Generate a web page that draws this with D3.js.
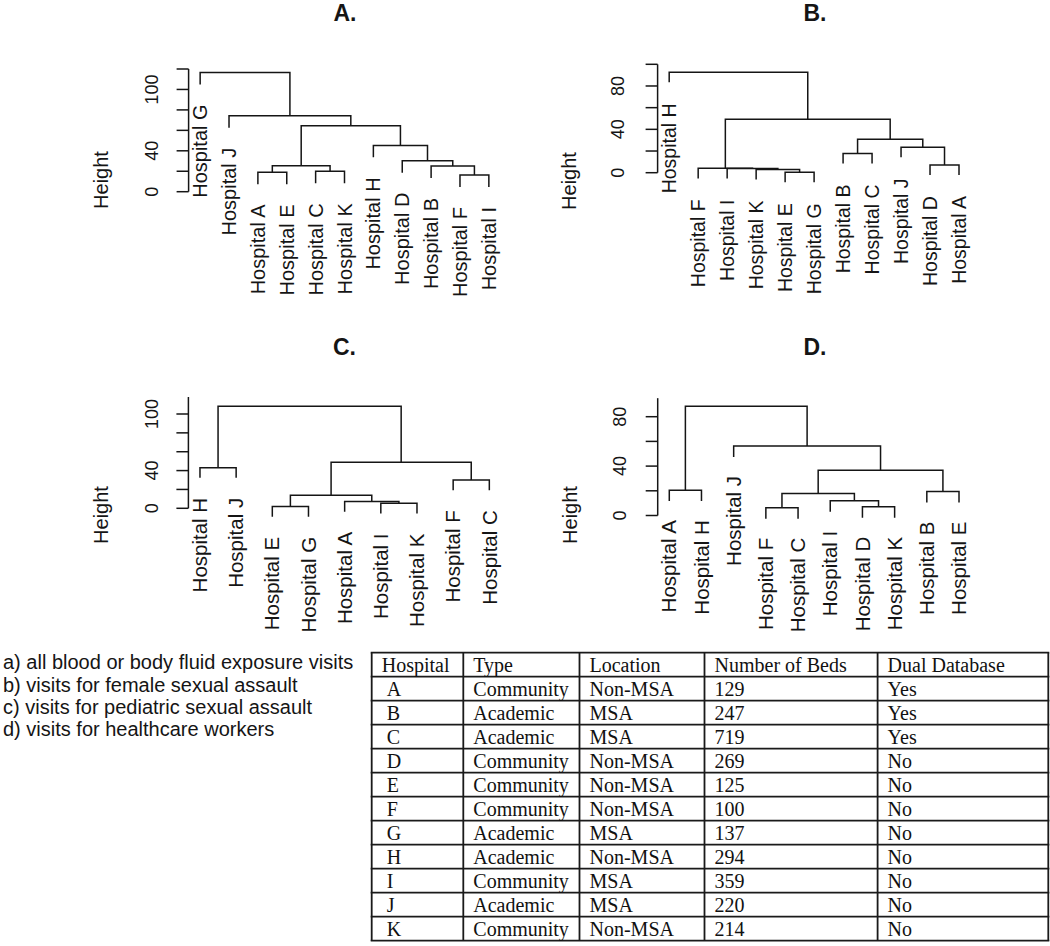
<!DOCTYPE html>
<html>
<head>
<meta charset="utf-8">
<script src="https://cdn.jsdelivr.net/npm/d3@7"></script>
<style>
  html, body { margin: 0; padding: 0; background: #fff; }
  svg { display: block; }
</style>
</head>
<body>
<svg id="chart" width="1050" height="946"></svg>
<script>
// ---------------- DATA ----------------
// Dendrograms as nested merges: [left, right, mergeHeight]; leaves are hospital letters.
const treeA = ["G", ["J", [[["A", "E", 18.9], ["C", "K", 19.9], 25.4],
                         ["H", ["D", ["B", ["F", "I", 16.3], 25.1], 30.3], 45.3], 64.5], 74.3], 116.6];
const treeB = ["H", [["F", ["I", ["K", ["E", "G", 0.5], 3.0], 3.8], 4.0],
                     [["B", "C", 17.8], ["J", ["D", "A", 7.1], 23.4], 30.8], 49.2], 92.6];
const treeC = [["H", "J", 43.1],
               [[["E", "G", 1.8], ["A", ["I", "K", 5.3], 7.1], 13.8], ["F", "C", 30.0], 48.8], 108.1];
const treeD = [["A", "H", 20.5],
               ["J", [[["F", "C", 6.2], ["I", ["D", "K", 7.0], 11.9], 17.8], ["B", "E", 19.4], 36.7], 56.3], 88.4];

const panelTitles = ["A.", "B.", "C.", "D."];
const ticksA = [0, 20, 40, 60, 80, 100, 120], tickLabelsA = [0, 40, 100];
const ticksB = [0, 20, 40, 60, 80, 100],      tickLabelsB = [0, 40, 80];
const ticksC = [0, 20, 40, 60, 80, 100],      tickLabelsC = [0, 40, 100];
const ticksD = [0, 20, 40, 60, 80],           tickLabelsD = [0, 40, 80];
const yAxisTitle = "Height";
const leafPrefix = "Hospital ";

const legendLines = [
  "a) all blood or body fluid exposure visits",
  "b) visits for female sexual assault",
  "c) visits for pediatric sexual assault",
  "d) visits for healthcare workers"
];

const tableHeader = ["Hospital", "Type", "Location", "Number of Beds", "Dual Database"];
const hospitals = ["A", "B", "C", "D", "E", "F", "G", "H", "I", "J", "K"];
const hospitalTypes = ["Community", "Academic", "Academic", "Community", "Community", "Community",
                       "Academic", "Academic", "Community", "Academic", "Community"];
const hospitalLocations = ["Non-MSA", "MSA", "MSA", "Non-MSA", "Non-MSA", "Non-MSA",
                           "MSA", "Non-MSA", "MSA", "MSA", "Non-MSA"];
const numberOfBeds = [129, 247, 719, 269, 125, 100, 137, 294, 359, 220, 214];
const dualDatabase = ["Yes", "Yes", "Yes", "No", "No", "No", "No", "No", "No", "No", "No"];

// ---------------- LAYOUT ----------------
const svg = d3.select("#chart");
const SANS = "'Liberation Sans', Arial, Helvetica, sans-serif";
const SERIF = "'Liberation Serif', 'Times New Roman', Times, serif";
const INK = "#151515";

const panels = [
  { tree: treeA, title: panelTitles[0], ticks: ticksA, tickLabels: tickLabelsA,
    left: 188.6, right: 500.4, y0: 191.7, yRefVal: 120, yRefPx: 69, axisTop: 120,
    titleX: 345, titleY: 21, tickLabelDx: 36.5, hX: 101, hY: 180, leafFont: 20, labelOff: 20 },
  { tree: treeB, title: panelTitles[1], ticks: ticksB, tickLabels: tickLabelsB,
    left: 657.6, right: 970.6, y0: 172.7, yRefVal: 100, yRefPx: 64.3, axisTop: 100,
    titleX: 815, titleY: 21, tickLabelDx: 39.5, hX: 569, hY: 181, leafFont: 19.5, labelOff: 21 },
  { tree: treeC, title: panelTitles[2], ticks: ticksC, tickLabels: tickLabelsC,
    left: 188.4, right: 500.9, y0: 508.3, yRefVal: 100, yRefPx: 414, axisTop: 118,
    titleX: 344.5, titleY: 355, tickLabelDx: 36.5, hX: 101, hY: 515, leafFont: 20.5, labelOff: 20 },
  { tree: treeD, title: panelTitles[3], ticks: ticksD, tickLabels: tickLabelsD,
    left: 657.7, right: 970.6, y0: 515.5, yRefVal: 80, yRefPx: 416.7, axisTop: 95,
    titleX: 815, titleY: 355, tickLabelDx: 38.5, hX: 570, hY: 515, leafFont: 20.5, labelOff: 19 }
];

panels.forEach(p => {
  const g = svg.append("g");
  const root = d3.hierarchy(p.tree, d => Array.isArray(d) ? d.slice(0, 2) : null);
  const leaves = root.leaves();
  const n = leaves.length;
  const ext = 0.04 * (n - 1);
  const x = d3.scaleLinear().domain([1 - ext, n + ext]).range([p.left, p.right]);
  const y = d3.scaleLinear().domain([0, p.yRefVal]).range([p.y0, p.yRefPx]);
  const hang = 0.1 * root.data[2];

  leaves.forEach((l, i) => { l.x = x(i + 1); });
  root.eachAfter(nd => { if (nd.children) nd.x = d3.mean(nd.children, c => c.x); });

  // title
  g.append("text").attr("x", p.titleX).attr("y", p.titleY)
    .attr("text-anchor", "middle").attr("font-family", SANS).attr("font-weight", "bold")
    .attr("font-size", 23).attr("fill", INK).text(p.title);

  // y axis
  const ax = g.append("g").attr("stroke", INK).attr("stroke-width", 1.5).attr("fill", "none");
  ax.append("line").attr("x1", p.left).attr("x2", p.left)
    .attr("y1", y(0)).attr("y2", y(p.axisTop));
  ax.selectAll("line.tick").data(p.ticks).join("line").attr("class", "tick")
    .attr("x1", p.left - 12).attr("x2", p.left)
    .attr("y1", d => y(d)).attr("y2", d => y(d));
  g.selectAll("text.tl").data(p.tickLabels).join("text").attr("class", "tl")
    .attr("transform", d => `translate(${p.left - p.tickLabelDx},${y(d)}) rotate(-90)`)
    .attr("text-anchor", "middle").attr("dy", "0.35em")
    .attr("font-family", SANS).attr("font-size", 18).attr("fill", INK)
    .text(d => d);
  g.append("text")
    .attr("transform", `translate(${p.hX},${p.hY}) rotate(-90)`)
    .attr("text-anchor", "middle").attr("dy", "0.35em")
    .attr("font-family", SANS).attr("font-size", 20).attr("fill", INK)
    .text(yAxisTitle);

  // branches
  const internal = root.descendants().filter(d => d.children);
  g.append("g").selectAll("path").data(internal).join("path")
    .attr("fill", "none").attr("stroke", INK).attr("stroke-width", 1.5)
    .attr("d", nd => {
      const h = nd.data[2];
      const [c0, c1] = nd.children;
      const t0 = c0.children ? c0.data[2] : h - hang;
      const t1 = c1.children ? c1.data[2] : h - hang;
      return `M${c0.x},${y(t0)}V${y(h)}H${c1.x}V${y(t1)}`;
    });

  // leaf labels
  g.selectAll("text.leaf").data(leaves).join("text").attr("class", "leaf")
    .attr("transform", l => `translate(${l.x},${y(l.parent.data[2] - hang) + p.labelOff}) rotate(-90)`)
    .attr("text-anchor", "end").attr("dy", "0.35em")
    .attr("font-family", SANS).attr("font-size", p.leafFont).attr("fill", INK)
    .text(l => leafPrefix + l.data);
});

// ---------------- LEGEND ----------------
svg.append("g").selectAll("text").data(legendLines).join("text")
  .attr("x", 3).attr("y", (d, i) => 669.3 + i * 22.35)
  .attr("font-family", SANS).attr("font-size", 20).attr("fill", INK)
  .text(d => d);

// ---------------- TABLE ----------------
const colEdges = [371.7, 463.3, 579.5, 704.5, 877.6, 1048.3];
const rowTop = 652.7, rowH = 24.0;
const rows = [tableHeader].concat(hospitals.map((h, i) =>
  [h, hospitalTypes[i], hospitalLocations[i], String(numberOfBeds[i]), dualDatabase[i]]));
const tg = svg.append("g");
const tableBottom = rowTop + rowH * rows.length;
// horizontal rules
tg.selectAll("line.h").data(d3.range(rows.length + 1)).join("line").attr("class", "h")
  .attr("x1", colEdges[0] - 1).attr("x2", colEdges[colEdges.length - 1] + 1)
  .attr("y1", i => rowTop + i * rowH).attr("y2", i => rowTop + i * rowH)
  .attr("stroke", "#1a1a1a").attr("stroke-width", 1.8);
// vertical rules
tg.selectAll("line.v").data(colEdges).join("line").attr("class", "v")
  .attr("x1", d => d).attr("x2", d => d)
  .attr("y1", rowTop).attr("y2", tableBottom)
  .attr("stroke", "#1a1a1a").attr("stroke-width", 1.8);
// cells
rows.forEach((r, ri) => {
  r.forEach((cell, ci) => {
    const indent = (ci === 0 && ri > 0) ? 15 : 10;
    tg.append("text")
      .attr("x", colEdges[ci] + indent)
      .attr("y", rowTop + ri * rowH + 19)
      .attr("font-family", SERIF).attr("font-size", 20).attr("fill", "#111")
      .text(cell);
  });
});
</script>
</body>
</html>
